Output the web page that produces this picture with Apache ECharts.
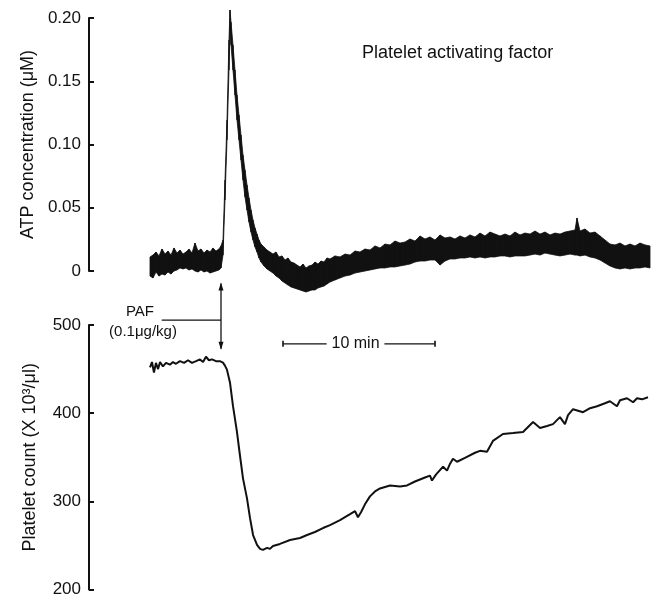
<!DOCTYPE html>
<html>
<head>
<meta charset="utf-8">
<script src="https://cdn.jsdelivr.net/npm/echarts@6/dist/echarts.min.js"></script>
<style>
  html, body { margin: 0; padding: 0; background: #fff; }
  #chart { width: 655px; height: 598px; }
</style>
</head>
<body>
<div id="chart"></div>
<script>
// time in minutes, PAF injected at t = 0
const atpTime = [-4.671, -4.474, -4.276, -4.079, -3.882, -3.684, -3.487, -3.289, -3.092, -2.895,
  -2.697, -2.5, -2.303, -2.105, -1.908, -1.711, -1.513, -1.316, -1.118, -0.921,
  -0.724, -0.526, -0.329, -0.132, 0, 0.132, 0.263, 0.395, 0.526, 0.592,
  0.658, 0.789, 0.921, 1.053, 1.184, 1.316, 1.447, 1.579, 1.711, 1.842,
  1.974, 2.105, 2.237, 2.368, 2.5, 2.632, 2.829, 3.026, 3.224, 3.421,
  3.618, 3.816, 4.013, 4.211, 4.408, 4.605, 4.803, 5.0, 5.197, 5.395,
  5.592, 5.789, 5.987, 6.184, 6.382, 6.579, 6.776, 6.974, 7.171, 7.5,
  7.829, 8.158, 8.487, 8.816, 9.145, 9.474, 9.803, 10.132, 10.461, 10.789,
  11.118, 11.447, 11.776, 12.105, 12.434, 12.763, 13.092, 13.421, 13.75, 14.079,
  14.408, 14.737, 15.066, 15.395, 15.724, 16.053, 16.382, 16.711, 17.039, 17.368,
  17.697, 18.026, 18.355, 18.684, 19.013, 19.342, 19.671, 20.0, 20.329, 20.658,
  20.987, 21.316, 21.645, 21.974, 22.303, 22.632, 22.961, 23.289, 23.421, 23.618,
  23.947, 24.276, 24.605, 24.934, 25.263, 25.592, 25.921, 26.25, 26.579, 26.908,
  27.237, 27.566, 27.895, 28.224];
// lower and upper edge of the noisy ATP trace (uM)
const atpLow = [-0.0040, -0.0055, -0.0008, -0.0040, -0.0024, -0.0032, -0.0008, -0.0024, 0, 0.0008,
  0.0024, 0.0016, 0.0024, 0.0008, 0.0016, 0, -0.0008, 0.0008, -0.0008, 0,
  -0.0016, -0.0008, 0, 0.0008, 0.0024, 0.0126, 0.0561, 0.1036, 0.1589, 0.1905,
  0.1787, 0.1589, 0.1391, 0.1194, 0.1036, 0.0877, 0.0719, 0.0585, 0.0482, 0.0387,
  0.0308, 0.0245, 0.0190, 0.0150, 0.0103, 0.0071, 0.0040, 0.0016, 0, -0.0016,
  -0.0040, -0.0055, -0.0079, -0.0095, -0.0111, -0.0126, -0.0134, -0.0142, -0.0150, -0.0158,
  -0.0166, -0.0158, -0.0150, -0.0150, -0.0134, -0.0126, -0.0119, -0.0103, -0.0087, -0.0071,
  -0.0055, -0.0040, -0.0032, -0.0016, -0.0008, 0, 0.0008, 0.0016, 0.0024, 0.0024,
  0.0032, 0.0032, 0.0040, 0.0047, 0.0055, 0.0071, 0.0079, 0.0079, 0.0087, 0.0087,
  0.0047, 0.0079, 0.0095, 0.0095, 0.0103, 0.0103, 0.0111, 0.0103, 0.0111, 0.0103,
  0.0111, 0.0111, 0.0119, 0.0119, 0.0111, 0.0119, 0.0119, 0.0119, 0.0126, 0.0134,
  0.0126, 0.0142, 0.0134, 0.0126, 0.0119, 0.0126, 0.0134, 0.0126, 0.0126, 0.0119,
  0.0126, 0.0111, 0.0103, 0.0087, 0.0063, 0.0040, 0.0024, 0.0016, 0.0024, 0.0016,
  0.0024, 0.0024, 0.0032, 0.0024];
const atpHigh = [0.0111, 0.0126, 0.0150, 0.0119, 0.0174, 0.0134, 0.0158, 0.0126, 0.0182, 0.0142,
  0.0166, 0.0134, 0.0150, 0.0174, 0.0142, 0.0221, 0.0158, 0.0174, 0.0142, 0.0166,
  0.0150, 0.0182, 0.0158, 0.0174, 0.0198, 0.0245, 0.0719, 0.1194, 0.1826, 0.2063,
  0.1968, 0.1787, 0.1589, 0.1391, 0.1233, 0.1075, 0.0917, 0.0798, 0.0680, 0.0577,
  0.0482, 0.0403, 0.0340, 0.0292, 0.0245, 0.0213, 0.0190, 0.0166, 0.0150, 0.0134,
  0.0150, 0.0111, 0.0119, 0.0087, 0.0103, 0.0071, 0.0063, 0.0047, 0.0032, 0.0055,
  0.0024, 0.0040, 0.0047, 0.0071, 0.0055, 0.0079, 0.0071, 0.0103, 0.0095, 0.0119,
  0.0111, 0.0134, 0.0126, 0.0158, 0.0150, 0.0174, 0.0166, 0.0198, 0.0182, 0.0213,
  0.0206, 0.0237, 0.0221, 0.0229, 0.0253, 0.0237, 0.0277, 0.0253, 0.0269, 0.0245,
  0.0285, 0.0261, 0.0269, 0.0253, 0.0277, 0.0261, 0.0285, 0.0269, 0.0300, 0.0277,
  0.0308, 0.0292, 0.0277, 0.0292, 0.0277, 0.0308, 0.0285, 0.0300, 0.0292, 0.0316,
  0.0292, 0.0308, 0.0285, 0.0300, 0.0292, 0.0308, 0.0316, 0.0324, 0.0419, 0.0316,
  0.0332, 0.0300, 0.0308, 0.0277, 0.0245, 0.0213, 0.0206, 0.0221, 0.0198, 0.0213,
  0.0198, 0.0221, 0.0206, 0.0198];

// platelet count (x10^3/ul)
const countTime = [-4.67, -4.54, -4.41, -4.28, -4.14, -4.01, -3.82, -3.62, -3.36, -3.16,
  -2.96, -2.70, -2.43, -2.17, -1.91, -1.64, -1.38, -1.18, -0.99, -0.79,
  -0.59, -0.33, -0.07, 0.13, 0.26, 0.39, 0.59, 0.79, 1.05, 1.25,
  1.45, 1.71, 1.91, 2.11, 2.37, 2.57, 2.76, 3.03, 3.22, 3.42,
  3.88, 4.54, 5.20, 5.66, 6.18, 6.71, 7.17, 7.83, 8.49, 8.82,
  9.01, 9.21, 9.47, 9.80, 10.13, 10.46, 11.12, 11.78, 12.24, 12.76,
  13.42, 13.75, 13.88, 14.14, 14.61, 14.87, 15.07, 15.26, 15.53, 16.05,
  16.71, 17.04, 17.50, 17.89, 18.55, 19.21, 19.87, 20.53, 20.99, 21.45,
  21.84, 22.30, 22.63, 22.83, 23.16, 23.82, 24.28, 24.74, 25.26, 25.59,
  26.05, 26.25, 26.71, 27.11, 27.37, 27.70, 28.09];
const countValue = [452.0, 458.0, 446.0, 457.0, 450.0, 458.0, 453.0, 457.0, 455.0, 458.0,
  456.0, 459.0, 457.0, 460.0, 457.0, 459.0, 461.0, 458.0, 464.0, 460.0,
  461.0, 459.0, 459.0, 457.3, 453.9, 449.4, 434.8, 407.9, 378.7, 351.7,
  325.8, 303.4, 280.9, 261.8, 250.6, 246.1, 244.9, 247.2, 246.1, 249.4,
  251.7, 256.2, 258.4, 261.8, 265.2, 269.7, 273.0, 278.7, 285.4, 288.8,
  282.0, 287.6, 296.6, 305.6, 311.2, 314.6, 318.0, 316.9, 318.0, 322.5,
  327.0, 329.2, 323.6, 330.3, 339.3, 334.8, 342.7, 348.3, 344.9, 349.4,
  355.1, 357.3, 356.2, 368.5, 376.4, 377.5, 378.7, 389.9, 383.1, 385.4,
  387.6, 395.5, 387.6, 397.8, 404.5, 401.1, 405.6, 407.9, 411.2, 413.5,
  407.9, 414.6, 416.9, 412.4, 416.9, 415.7, 418.0];

const atpTicks = [0, 0.05, 0.10, 0.15, 0.20];
const countTicks = [200, 300, 400, 500];

const font = 'Liberation Sans, Arial, sans-serif';
const ink = '#111';

const chart = echarts.init(document.getElementById('chart'));

const yAxisBase = {
  type: 'value',
  axisLine: { show: true, onZero: false, lineStyle: { color: ink, width: 2 } },
  axisTick: { show: true, inside: true, length: 5, lineStyle: { color: ink, width: 2 } },
  splitLine: { show: false },
  axisLabel: { color: ink, fontSize: 17, fontFamily: font, margin: 8 },
  nameLocation: 'middle',
  nameGap: 50,
  nameTextStyle: { color: ink, fontSize: 18, fontFamily: font },
};

// ATP trace is drawn as a filled band between its lower and upper edge
function renderBand(params, api) {
  const i = params.dataIndex;
  if (i >= atpTime.length - 1) return null;
  const a0 = api.coord([api.value(0), api.value(1)]);
  const a1 = api.coord([api.value(0), api.value(2)]);
  const b1 = api.coord([atpTime[i + 1], atpHigh[i + 1]]);
  const b0 = api.coord([atpTime[i + 1], atpLow[i + 1]]);
  return {
    type: 'polygon',
    shape: { points: [a0, a1, b1, b0] },
    style: { fill: ink, stroke: ink, lineWidth: 0.8 },
  };
}

chart.setOption({
  backgroundColor: '#fff',
  animation: false,
  grid: [
    { left: 89, width: 563, top: 18, height: 253 },
    { left: 89, width: 563, top: 325, height: 267 },
  ],
  xAxis: [
    { type: 'value', gridIndex: 0, min: -8.684, max: 28.355, show: false },
    { type: 'value', gridIndex: 1, min: -8.684, max: 28.355, show: false },
  ],
  yAxis: [
    Object.assign({}, yAxisBase, {
      gridIndex: 0, min: atpTicks[0], max: atpTicks[atpTicks.length - 1], interval: 0.05,
      name: 'ATP concentration (\u03bcM)',
      axisLabel: Object.assign({}, yAxisBase.axisLabel, {
        formatter: v => (v === 0 ? '0' : v.toFixed(2)),
      }),
    }),
    Object.assign({}, yAxisBase, {
      gridIndex: 1, min: countTicks[0], max: countTicks[countTicks.length - 1], interval: 100,
      name: 'Platelet count (X 10\u00b3/\u03bcl)',
    }),
  ],
  series: [
    {
      type: 'custom', xAxisIndex: 0, yAxisIndex: 0,
      data: atpTime.map((t, i) => [t, atpLow[i], atpHigh[i]]),
      encode: { x: 0, y: [1, 2] },
      renderItem: renderBand,
      clip: false,
    },
    {
      type: 'line', xAxisIndex: 1, yAxisIndex: 1,
      data: countTime.map((t, i) => [t, countValue[i]]),
      symbol: 'none', clip: false,
      lineStyle: { color: ink, width: 2 },
    },
  ],
});

// annotations, placed in data units through the axes
const atpPx = (t, v) => chart.convertToPixel({ gridIndex: 0 }, [t, v]);
const countPx = (t, v) => chart.convertToPixel({ gridIndex: 1 }, [t, v]);

const arrowTop = countPx(0, 547);
const arrowBot = countPx(0, 473);
const leadA = countPx(-3.9, 505.6);
const leadB = countPx(0, 505.6);
const barY = 478.7;
const bar0 = countPx(4.08, barY);
const bar1 = countPx(14.08, barY);
const gapA = countPx(6.95, barY);
const gapB = countPx(10.75, barY);
const barText = countPx(8.85, barY);
const pafText = countPx(-5.33, 514.6);
const doseText = countPx(-5.13, 492.1);
const titlePos = atpPx(9.28, 0.172);

const seg = (a, b, w) => ({
  type: 'line', shape: { x1: a[0], y1: a[1], x2: b[0], y2: b[1] },
  style: { stroke: ink, lineWidth: w || 1.3 },
});
const label = (p, text, size, align) => ({
  type: 'text', x: p[0], y: p[1],
  style: { text: text, fill: ink, font: size + 'px ' + font, align: align || 'center', verticalAlign: 'middle' },
});

chart.setOption({
  graphic: [
    seg(arrowTop, arrowBot),
    { type: 'polygon', shape: { points: [[arrowTop[0], arrowTop[1] - 1], [arrowTop[0] - 2.5, arrowTop[1] + 7], [arrowTop[0] + 2.5, arrowTop[1] + 7]] }, style: { fill: ink } },
    { type: 'polygon', shape: { points: [[arrowBot[0], arrowBot[1] + 1], [arrowBot[0] - 2.5, arrowBot[1] - 7], [arrowBot[0] + 2.5, arrowBot[1] - 7]] }, style: { fill: ink } },
    seg(leadA, leadB),
    label(pafText, 'PAF', 15),
    label(doseText, '(0.1\u03bcg/kg)', 15),
    seg(bar0, gapA),
    seg(gapB, bar1),
    seg([bar0[0], bar0[1] - 3], [bar0[0], bar0[1] + 3], 1.6),
    seg([bar1[0], bar1[1] - 3], [bar1[0], bar1[1] + 3], 1.6),
    label(barText, '10 min', 16),
    label(titlePos, 'Platelet activating factor', 18, 'left'),
  ],
});
</script>
</body>
</html>
